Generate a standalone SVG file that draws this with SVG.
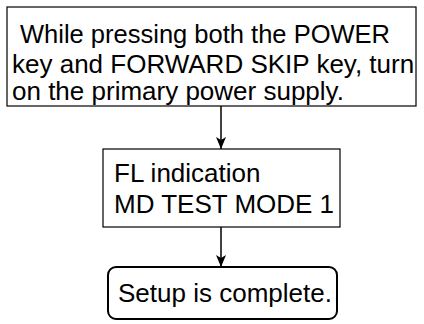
<svg xmlns="http://www.w3.org/2000/svg" width="424" height="324" viewBox="0 0 424 324">
<defs>
<marker id="ah" viewBox="0 0 12 10" refX="12" refY="5" markerWidth="12" markerHeight="10" markerUnits="userSpaceOnUse" orient="auto">
<path d="M0,0 L3,5 L0,10 L12,5 Z" fill="#000"/>
</marker>
<style>
.box{fill:#fff;stroke:#000;stroke-width:1.2}
.rbox{fill:#fff;stroke:#000;stroke-width:2}
.t{font-family:"Liberation Sans",Arial,sans-serif;font-size:26px;fill:#000}
.c{stroke:#000;stroke-width:1.5;fill:none}
</style>
</defs>
<rect width="424" height="324" fill="#fff"/>
<g id="connectors">
<line class="c" x1="221" y1="106" x2="221" y2="149" marker-end="url(#ah)"/>
<line class="c" x1="221" y1="227" x2="221" y2="267" marker-end="url(#ah)"/>
</g>
<g id="n1">
<rect class="box" x="7" y="7" width="409" height="99"/>
<text class="t" x="20" y="43" textLength="370" lengthAdjust="spacingAndGlyphs">While pressing both the POWER</text>
<text class="t" x="12" y="73">key and FORWARD SKIP key, turn</text>
<text class="t" x="12" y="100">on the primary power supply.</text>
</g>
<g id="n2">
<rect class="box" x="103" y="149" width="237" height="78"/>
<text class="t" x="114" y="182">FL indication</text>
<text class="t" x="114" y="213">MD TEST MODE 1</text>
</g>
<g id="n3">
<rect class="rbox" x="108" y="267" width="229" height="52" rx="8"/>
<text class="t" x="118" y="302">Setup is complete.</text>
</g>
</svg>
